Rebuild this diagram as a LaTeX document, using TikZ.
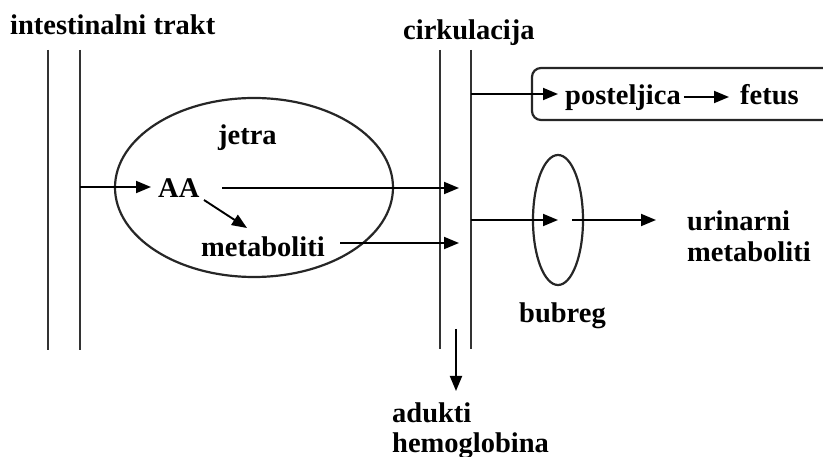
\documentclass[tikz,border=0pt]{standalone}
\usepackage{fontspec}
\setmainfont{Liberation Serif}
\usetikzlibrary{arrows.meta,shapes.geometric}

\begin{document}
\begin{tikzpicture}[x=1pt,y=-1pt, >={Triangle[length=15pt,width=12pt]},
    wall/.style={line width=2.2pt,black!80},
    flow/.style={->,line width=1.9pt},
    organ/.style={draw,ellipse,line width=2.2pt,black!85},
    lbl/.style={font=\bfseries\fontsize{28.5}{31}\selectfont,inner sep=0pt,anchor=base west}]
  \useasboundingbox (0,0) rectangle (823,457);
  \clip (0,0) rectangle (823,457);
  % tubes
  \coordinate (gutL) at (48,50);
  \coordinate (gutR) at (80,50);
  \coordinate (circL) at (440,50);
  \coordinate (circR) at (471,50);
  \coordinate (cin) at (459,0);
  \draw[wall] (gutL) -- ++(0,300);
  \draw[wall] (gutR) -- ++(0,300);
  \draw[wall] (circL) -- ++(0,299);
  \draw[wall] (circR) -- ++(0,299);
  \node[lbl] (gut) at (10,35) {intestinalni trakt};
  \node[lbl] (circ) at (403,40) {cirkulacija};
  % jetra
  \node[organ,minimum width=278,minimum height=179] (liver) at (254,187.5) {};
  \node[lbl] (jetra) at (218,145) {jetra};
  \node[lbl] (AA) at (158,198) {AA};
  \node[lbl] (metab) at (201,257) {metaboliti};
  \draw[flow] (gutR |- 0,187) -- (151,187);
  \draw[flow] (222,188) -- (cin |- 0,188);
  \draw[flow] (204,200) -- (247,228);
  \draw[flow] (340,243) -- (cin |- 0,243);
  % posteljica
  \draw[line width=2.2pt,black!85,rounded corners=9pt] (532,68) rectangle (860,120);
  \node[lbl] (post) at (565,105) {posteljica};
  \node[lbl] (fetus) at (740,105) {fetus};
  \draw[flow] (circR |- 0,94) -- (558,94);
  \draw[flow] ([xshift=3pt]post.east |- 0,97) -- (729,97);
  % bubreg
  \node[organ,minimum width=50,minimum height=130] (kidney) at (558,220) {};
  \node[lbl] (bub) at (519,323) {bubreg};
  \node[lbl] (urin) at (687,231) {urinarni};
  \node[lbl] (umet) at (687,262) {metaboliti};
  \draw[flow] (circR |- kidney) -- (kidney.center);
  \draw[flow] ([xshift=14pt]kidney.center) -- (656,220);
  % adukti
  \coordinate (cmid) at (456,329);
  \node[lbl] (adu) at (392,422) {adukti};
  \node[lbl] (hem) at (392,452) {hemoglobina};
  \draw[flow] (cmid) -- (cmid |- 0,391);
\end{tikzpicture}
\end{document}
